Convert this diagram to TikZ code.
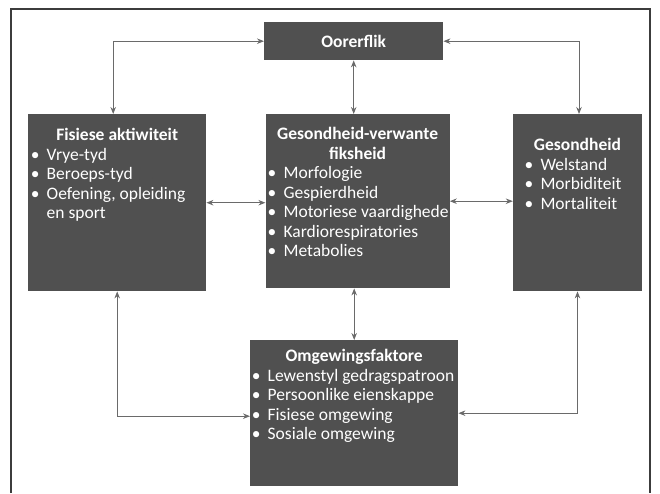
\documentclass[tikz,border=0pt]{standalone}
\usepackage{fontspec}
\setmainfont{Carlito}
\usetikzlibrary{arrows.meta,positioning}
\definecolor{boxgray}{HTML}{505050}
\definecolor{linegray}{HTML}{6A6A6A}
\definecolor{framegray}{HTML}{3C3C3C}
\tikzstyle{blk}=[rectangle, fill=boxgray, text=white, inner sep=0pt, anchor=north west, font=\fontsize{17.5}{19.5}\selectfont]
\tikzstyle{link}=[<->, draw=linegray, line width=0.9pt]
\newcommand{\boxtxt}[3]{\parbox[c][#2][t]{#1}{#3}}
\newcommand{\hd}[2]{{\centering\bfseries\rule{0pt}{#1}#2\par}}
\newcommand{\itm}[1]{\makebox[0pt][c]{\textbullet}\hspace*{11.5pt}\mbox{#1}\par}

\begin{document}
\begin{tikzpicture}[x=1pt, y=-1pt, >={Stealth[length=7pt,width=5.5pt]}]
  \useasboundingbox (0,0) rectangle (660,493);
  \draw[framegray, line width=1.3pt] (11,493) |- (650,9) -- (650,493);
%
  \node[blk, minimum width=179pt, minimum height=38pt] (oor) at (264,22) {\bfseries Oorerflik};
  \node[blk] (fis) at (28,114) {\boxtxt{178pt}{177pt}{\hd{26.7pt}{Fisiese aktiwiteit}\leftskip=7pt
    \itm{Vrye-tyd}\itm{Beroeps-tyd}\itm{Oefening, opleiding}\hspace*{11.5pt}en sport\par}};
  \node[blk, right=59pt of fis.north east, anchor=north west] (gvf) {\boxtxt{184pt}{174pt}{\hd{25.5pt}{Gesondheid-verwante\\fiksheid}\leftskip=6.5pt
    \itm{Morfologie}\itm{Gespierdheid}\itm{Motoriese vaardighede}\itm{Kardiorespiratories}\itm{Metabolies}}};
  \node[blk, right=63pt of gvf.north east, anchor=north west] (ges) {\boxtxt{129pt}{177pt}{\hd{36.7pt}{Gesondheid}\leftskip=16pt
    \itm{Welstand}\itm{Morbiditeit}\itm{Mortaliteit}}};
  \node[blk] (omg) at (250,340) {\boxtxt{208pt}{146pt}{\hd{21.7pt}{Omgewingsfaktore}\leftskip=6pt
    \itm{Lewenstyl gedragspatroon}\itm{Persoonlike eienskappe}\itm{Fisiese omgewing}\itm{Sosiale omgewing}}};
%
  \draw[link] (oor.west) -| ([xshift=-4pt]fis.north);
  \draw[link] (oor.east) -| ([xshift=1.5pt]ges.north);
  \draw[link] (oor.south) -- (oor.south |- gvf.north);
  \draw[link] (fis.east) -- (fis.east -| gvf.west);
  \draw[link] (gvf.east) -- (gvf.east -| ges.west);
  \draw[link] (omg.north) -- (omg.north |- gvf.south);
  \draw[link] (fis.south) |- ([yshift=-3pt]omg.west);
  \draw[link] (ges.south) |- (omg.east);
%
\end{tikzpicture}
\end{document}
